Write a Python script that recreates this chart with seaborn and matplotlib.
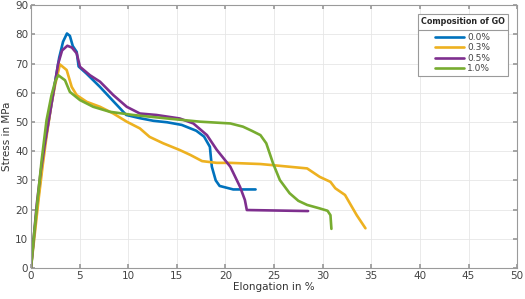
import matplotlib
matplotlib.use("Agg")
import matplotlib.pyplot as plt
import seaborn as sns
import pandas as pd
from matplotlib.lines import Line2D

# ---- data ----
labels = ["0.0%", "0.3%", "0.5%", "1.0%"]
colors = ["#0072BD", "#EDB120", "#7E2F8E", "#77AC30"]

x_00 = [0, 0.3, 0.6, 0.95, 1.3, 1.8, 2.4, 2.9, 3.3, 3.7, 4.0, 4.3, 4.7, 4.9, 5.7, 7.1, 8.5,
        9.8, 11.2, 12.6, 14.0, 15.5, 17.0, 17.8, 18.4, 18.5, 18.6, 19.0, 19.4, 20.8, 23.1]
y_00 = [0, 10, 20, 30, 40, 50, 62, 72, 77.5, 80.3, 79.5, 76, 74, 69, 66.6, 62, 57,
        52.4, 51.3, 50.4, 49.9, 49.0, 47.0, 45.0, 41.5, 38, 34.7, 30, 28.1, 26.9, 26.9]

x_03 = [0, 0.4, 0.8, 1.2, 1.6, 2.1, 2.5, 2.98, 3.67, 4.19, 4.7, 5.73, 7.1, 8.47, 9.85, 11.2,
        12.2, 13.6, 15.3, 16.4, 17.6, 19.1, 20.5, 23.6, 24.9, 28.4, 29.7, 30.8, 31.3, 32.3,
        33.5, 34.4]
y_03 = [0, 12, 24, 35, 45, 56, 63, 69.7, 67.8, 62, 59.2, 56.9, 55.2, 52.9, 50.1, 47.8,
        44.9, 42.7, 40.4, 38.7, 36.6, 36.0, 36.0, 35.6, 35.2, 34.1, 31.2, 29.5, 27.3, 25.0,
        18.1, 13.6]

x_05 = [0, 0.3, 0.6, 1.0, 1.4, 1.9, 2.4, 2.8, 3.2, 3.74, 4.2, 4.7, 5.04, 6.07, 7.1, 8.47,
        9.85, 11.2, 12.9, 15.3, 16.7, 18.1, 19.1, 20.5, 21.5, 22.0, 22.2, 28.5]
y_05 = [0, 11, 22, 33, 42, 52, 62, 70, 74.5, 76.1, 75.5, 73.5, 68.9, 66, 63.8, 59.2,
        55.2, 52.9, 52.4, 51.2, 49.5, 45.5, 40.5, 34.7, 27.8, 23.3, 19.85, 19.5]

x_10 = [0, 0.3, 0.7, 1.1, 1.6, 2.1, 2.5, 2.81, 3.5, 4.0, 5.04, 6.4, 8.1, 10.5, 14.0, 17.4,
        20.5, 21.8, 22.7, 23.6, 24.2, 24.9, 25.6, 26.6, 27.5, 28.4, 29.7, 30.5, 30.8, 30.9]
y_10 = [0, 11, 24, 37, 50.6, 59, 64, 66, 64.3, 60.3, 57.5, 55.2, 53.5, 52.4, 51.2, 50.1,
        49.5, 48.4, 47.0, 45.5, 42.7, 35.8, 30.1, 25.6, 23.0, 21.6, 20.4, 19.6, 18.1, 13.4]

series_x = [x_00, x_03, x_05, x_10]
series_y = [y_00, y_03, y_05, y_10]

frames = []
for lab, xs, ys in zip(labels, series_x, series_y):
    frames.append(pd.DataFrame({"Elongation": xs, "Stress": ys,
                                "GO": lab, "order": range(len(xs))}))
df = pd.concat(frames, ignore_index=True)

sns.set_theme(style="white")
plt.rcParams["font.family"] = ["DejaVu Sans"]

fig = plt.figure(figsize=(5.25, 2.99), dpi=100)
ax = fig.add_axes([0.059, 0.1037, 0.926, 0.879])

sns.lineplot(data=df, x="Elongation", y="Stress", hue="GO", hue_order=labels,
             palette=colors, sort=False, estimator=None, linewidth=1.9, ax=ax,
             legend=False)

ax.set_xlim(0, 50)
ax.set_ylim(0, 90)
ax.set_xticks(range(0, 51, 5))
ax.set_yticks(range(0, 91, 10))
ax.grid(True, color="#e6e6e6", linewidth=0.6)
ax.set_axisbelow(True)
for s in ax.spines.values():
    s.set_color("#9a9a9a")
    s.set_linewidth(0.8)
ax.tick_params(axis="both", which="major", direction="in", length=3,
               color="#9a9a9a", labelsize=7.5, labelcolor="#444444",
               top=True, right=True, bottom=True, left=True, pad=2)
ax.set_xlabel("Elongation in %", fontsize=7.5, color="#333333", labelpad=1)
ax.set_ylabel("Stress in MPa", fontsize=7.5, color="#333333", labelpad=2)

handles = [Line2D([0], [0], color=c, linewidth=1.9) for c in colors]
leg = ax.legend(handles, labels, title="Composition of GO", loc="upper right",
                bbox_to_anchor=(0.981, 0.966), borderaxespad=0,
                fontsize=6.5, title_fontsize=5.8,
                frameon=True, fancybox=False, edgecolor="#9a9a9a",
                handlelength=3.2, handletextpad=0.3, labelspacing=0.14,
                borderpad=0.35, framealpha=1)
leg.get_title().set_fontweight("bold")
leg.get_frame().set_linewidth(0.8)
leg._legend_box.sep = 5
for t in leg.get_texts():
    t.set_color("#444444")

fig.canvas.draw()
inv = fig.transFigure.inverted()
bb = leg.get_window_extent().transformed(inv)
tb = leg.get_title().get_window_extent().transformed(inv)
t0 = leg.get_texts()[0].get_window_extent().transformed(inv)
ysep = (tb.y0 + t0.y1) / 2
fig.add_artist(Line2D([bb.x0, bb.x1], [ysep, ysep], color="#9a9a9a",
                      linewidth=0.8, transform=fig.transFigure))

fig.savefig("out.png", dpi=100)
